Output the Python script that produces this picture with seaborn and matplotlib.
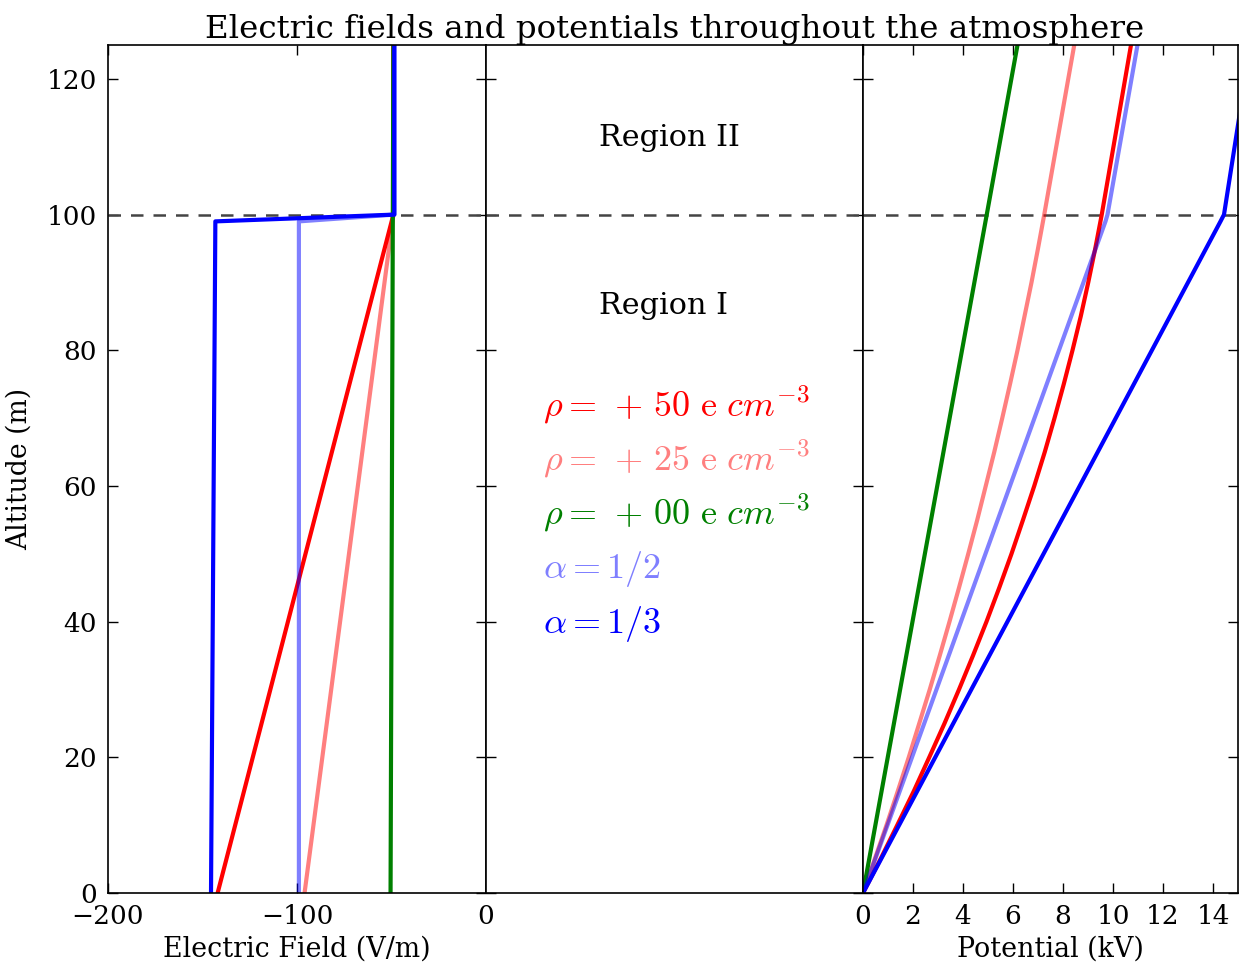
import matplotlib
matplotlib.use("Agg")
import matplotlib.pyplot as plt
import seaborn as sns

# ---------------- data ----------------
# Electric field profiles (V/m) vs altitude (m)
z_field_rho = [0, 100, 125]
E_rho50 = [-142, -49, -49]
E_rho25 = [-96, -49, -49]
E_rho00 = [-50.5, -49.3, -49]

z_field_alpha = [0, 99, 100, 125]
E_alpha_half = [-99, -99, -48.5, -48.5]
E_alpha_third = [-145.5, -143.2, -48.5, -48.5]

# Potential profiles (kV) vs altitude (m)
z_pot_rho = [0, 5, 10, 15, 20, 25, 30, 35, 40, 45, 50, 55, 60, 65, 70, 75,
             80, 85, 90, 95, 100, 125]
V_rho50 = [0, 0.70, 1.37, 2.03, 2.65, 3.26, 3.84, 4.40, 4.94, 5.45, 5.94, 6.40,
           6.85, 7.27, 7.66, 8.03, 8.38, 8.71, 9.01, 9.29, 9.55, 10.72]
V_rho25 = [0, 0.47, 0.94, 1.39, 1.83, 2.25, 2.67, 3.07, 3.46, 3.84, 4.21, 4.57,
           4.91, 5.25, 5.57, 5.88, 6.18, 6.46, 6.74, 7.00, 7.25, 8.45]
z_pot_rho00 = [0, 100, 125]
V_rho00 = [0, 4.95, 6.18]

z_pot_alpha = [0, 99, 100, 125]
V_alpha_half = [0, 9.70, 9.78, 10.98]
V_alpha_third = [0, 14.30, 14.44, 15.50]

boundary_altitude = 100
legend_labels = [r"$\rho =\,+\,50\ \mathrm{e}\ cm^{-3}$",
                 r"$\rho =\,+\,25\ \mathrm{e}\ cm^{-3}$",
                 r"$\rho =\,+\,00\ \mathrm{e}\ cm^{-3}$",
                 r"$\alpha = 1/2$",
                 r"$\alpha = 1/3$"]
legend_y = [72, 64, 56, 47.7, 39.6]
region_labels = ["Region II", "Region I"]
region_y = [111.3, 86.5]
left_xticks = [-200, -100, 0]
right_xticks = [0, 2, 4, 6, 8, 10, 12, 14]
yticks = [0, 20, 40, 60, 80, 100, 120]

# ---------------- style ----------------
sns.set_style("ticks")
plt.rcParams["font.family"] = ["DejaVu Serif"]
plt.rcParams["mathtext.fontset"] = "cm"
plt.rcParams["axes.edgecolor"] = "black"
plt.rcParams["axes.linewidth"] = 1.2
plt.rcParams["text.color"] = "black"
plt.rcParams["axes.labelcolor"] = "black"
plt.rcParams["xtick.color"] = "black"
plt.rcParams["ytick.color"] = "black"

series_colors = [(1, 0, 0, 1), (1, 0, 0, 0.5), (0, 0.5, 0, 1), (0, 0, 1, 0.5), (0, 0, 1, 1)]
LW = 3

W, H = 1239, 963
fig = plt.figure(figsize=(W / 100, H / 100), dpi=100)
bottom = 70 / H
height = 848 / H
axL = fig.add_axes([108 / W, bottom, 378 / W, height])
axM = fig.add_axes([486 / W, bottom, 377 / W, height], sharey=axL)
axR = fig.add_axes([863 / W, bottom, 375 / W, height], sharey=axL)

field_series = [(E_rho50, z_field_rho), (E_rho25, z_field_rho), (E_rho00, z_field_rho),
                (E_alpha_half, z_field_alpha), (E_alpha_third, z_field_alpha)]
pot_series = [(V_rho50, z_pot_rho), (V_rho25, z_pot_rho), (V_rho00, z_pot_rho00),
              (V_alpha_half, z_pot_alpha), (V_alpha_third, z_pot_alpha)]

for (xv, yv), c in zip(field_series, series_colors):
    sns.lineplot(x=xv, y=yv, ax=axL, color=c[:3], alpha=c[3], lw=LW,
                 sort=False, estimator=None, legend=False)
for (xv, yv), c in zip(pot_series, series_colors):
    sns.lineplot(x=xv, y=yv, ax=axR, color=c[:3], alpha=c[3], lw=LW,
                 sort=False, estimator=None, legend=False)

for ax in (axL, axM, axR):
    ax.axhline(boundary_altitude, color="#444444", lw=1.8, ls=(0, (5, 4)), zorder=1)
    ax.tick_params(direction="in", top=True, right=True, length=7, width=1,
                   labelsize=19, pad=8)
    ax.set_ylabel("")
    ax.set_xlabel("")

axL.set_ylim(0, 125)
axL.set_yticks(yticks)
axL.set_xlim(-200, 0)
axL.set_xticks(left_xticks)
axL.set_xticklabels([f"\u2212{abs(v)}" if v < 0 else str(v) for v in left_xticks])
axL.set_xlabel("Electric Field (V/m)", fontsize=19.4, labelpad=5)
axL.set_ylabel("Altitude (m)", fontsize=19.2, labelpad=10)

axM.set_xlim(0, 1)
axM.set_xticks([])
axM.tick_params(labelleft=False)
axM.set_title("Electric fields and potentials throughout the atmosphere", fontsize=23.4, pad=4)
for lab, yy in zip(region_labels, region_y):
    axM.text(0.30, yy, lab, fontsize=21.8, ha="left", va="center")
for lab, yy, c in zip(legend_labels, legend_y, series_colors):
    axM.text(0.15, yy, lab, fontsize=26, ha="left", va="center", color=c)

axR.set_xlim(0, 15)
axR.set_xticks(right_xticks)
axR.tick_params(labelleft=False)
axR.set_xlabel("Potential (kV)", fontsize=19.4, labelpad=5)

fig.savefig("out.png", dpi=100)
